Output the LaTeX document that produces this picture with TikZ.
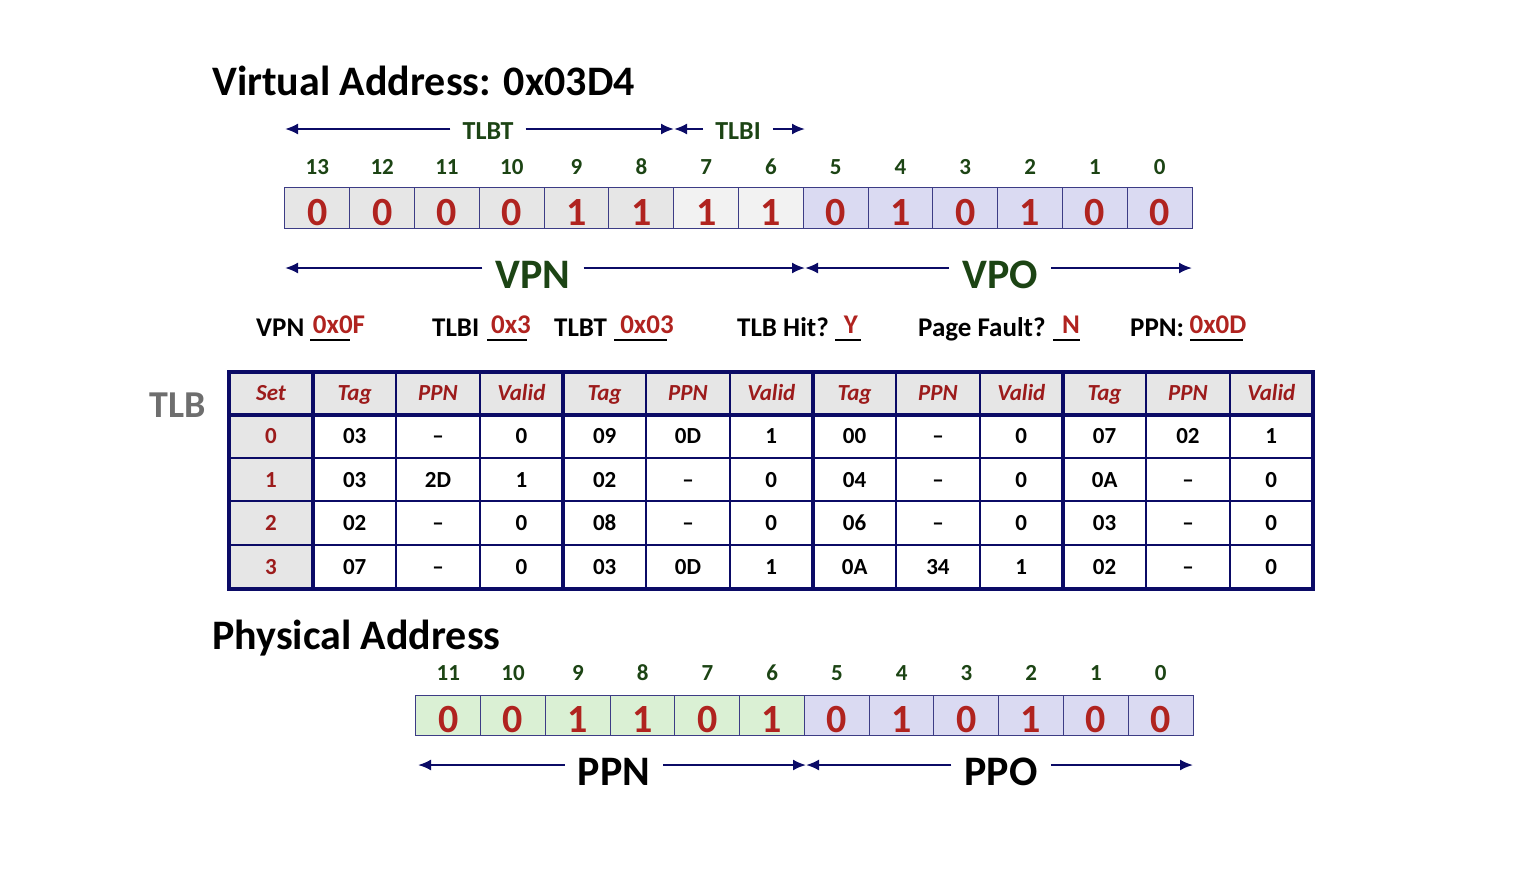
\documentclass[tikz,border=0pt]{standalone}
\usepackage{fontspec}
\setmainfont{Carlito}
\usetikzlibrary{arrows.meta}
\definecolor{navy}{HTML}{0B0B66}
\definecolor{bitred}{HTML}{B0231F}
\definecolor{hdrred}{HTML}{9C1B1B}
\definecolor{darkgreen}{HTML}{1C4414}
\definecolor{cellgray}{HTML}{E6E6E6}
\definecolor{cellpale}{HTML}{F2F2F2}
\definecolor{lavender}{HTML}{DADAF2}
\definecolor{mint}{HTML}{DAF0D4}
\definecolor{tlbgray}{HTML}{6E6E6E}
\begin{document}
\begin{tikzpicture}[x=1pt,y=-1pt,
  bit/.style={draw=navy!80,line width=1pt,minimum width=64.8pt,minimum height=41pt,inner sep=0pt,text=bitred,text height=34pt,text depth=0pt,font=\fontsize{40}{40}\selectfont\bfseries},
  bitno/.style={text=darkgreen,font=\fontsize{23}{23}\selectfont\bfseries},
  span/.style={draw=navy,line width=2pt,-{Latex[length=13pt,width=11pt]}},
  tag/.style={text=darkgreen,inner sep=12pt,text height=21pt,text depth=0pt,font=\fontsize{26}{26}\selectfont\bfseries},
  big/.style={inner sep=13pt,text height=40pt,text depth=0pt,font=\fontsize{42}{42}\selectfont\bfseries},
  title/.style={anchor=base west,inner sep=0pt,font=\fontsize{42}{42}\selectfont\bfseries},
  fld/.style={anchor=base west,inner sep=0pt,font=\fontsize{27}{27}\selectfont\bfseries},
  val/.style={anchor=base,inner sep=0pt,text=bitred,font=\fontsize{27}{27}\selectfont\bfseries},
  uline/.style={line width=2pt},
  cell/.style={inner sep=0pt,text height=14.5pt,text depth=0pt,font=\fontsize{23}{23}\selectfont\bfseries},
  head/.style={cell,text=hdrred,font=\fontsize{23}{23}\selectfont\bfseries\itshape},
  setno/.style={cell,text=hdrred},
  grid/.style={draw=navy,line width=1.8pt},
  frame/.style={draw=navy,line width=4.5pt}]

    \useasboundingbox (0,0) rectangle (1524,878);

    % virtual address
    \node[title] (vtitle) at (212,95) {Virtual Address: 0x03D4};
    \foreach \b/\v/\c in {13/0/cellgray,12/0/cellgray,11/0/cellgray,10/0/cellgray,9/1/cellgray,8/1/cellgray,7/1/cellpale,6/1/cellpale,5/0/lavender,4/1/lavender,3/0/lavender,2/1/lavender,1/0/lavender,0/0/lavender}{
        \node[bit,fill=\c] (v\b) at ({285+(13.5-\b)*64.79},208) {\v};
        \node[bitno] (vn\b) at ({285+(13.5-\b)*64.79},167) {\b};
    }

    \coordinate (tlbtL) at (285,129);
    \coordinate (tlbtR) at (674,129);
    \coordinate (tlbiR) at (805,129);
    \node[tag] (tlbt) at (488,129) {TLBT};
    \node[tag] (tlbi) at (738,129) {TLBI};
    \draw[span] (tlbt) -- (tlbtL);
    \draw[span] (tlbt) -- (tlbtR);
    \draw[span] (tlbi) -- (tlbtR);
    \draw[span] (tlbi) -- (tlbiR);

    \coordinate (vpnL) at (285,268);
    \coordinate (vpnR) at (805,268);
    \coordinate (vpoR) at (1192,268);
    \node[big,text=darkgreen] (vpn) at (533,268) {VPN};
    \node[big,text=darkgreen] (vpo) at (1000,268) {VPO};
    \draw[span] (vpn) -- (vpnL);
    \draw[span] (vpn) -- (vpnR);
    \draw[span] (vpo) -- (vpnR);
    \draw[span] (vpo) -- (vpoR);

    % answers
    \foreach \n/\lx/\t/\ua/\ub/\vx/\v in {fvpn/256/VPN/310/350/339/0x0F,ftlbi/432/TLBI/487/527/511/0x3,ftlbt/554/TLBT/614/667/647/0x03,fhit/737/TLB Hit?/835/861/851/Y,ffault/918/Page Fault?/1053/1080/1071/N,fppn/1130/PPN:/1190/1243/1218/0x0D}{
        \node[fld] (\n) at (\lx,336) {\t};
        \draw[uline] (\ua,340) -- (\ub,340);
        \node[val] (\n v) at (\vx,333) {\v};
    }

    % TLB
    \node[anchor=east,inner sep=0pt,text=tlbgray,font=\fontsize{38}{38}\selectfont\bfseries] (tlb) at (206,405) {TLB};
    \fill[cellgray] (229,372) rectangle (1313,415);
    \fill[cellgray] (229,415) rectangle (313,589);
    \foreach \x in {396,480,646,730,896,980,1146,1230}
        \draw[grid] (\x,372) -- (\x,589);
    \foreach \y in {458,501,545}
        \draw[grid] (229,\y) -- (1313,\y);
    \foreach \x in {313,563,813,1063}
        \draw[frame] (\x,372) -- (\x,589);
    \draw[frame] (229,415) -- (1313,415);
    \draw[frame] (229,372) rectangle (1313,589);

    \node[head] (hset) at (271,393.5) {Set};
    \foreach \t [count=\c] in {Tag,PPN,Valid,Tag,PPN,Valid,Tag,PPN,Valid,Tag,PPN,Valid}
        \node[head] (h\c) at ({313+(\c-0.5)*83.33},393.5) {\t};
    \foreach \r/\row in {0/{03,\textendash,0,09,0D,1,00,\textendash,0,07,02,1},
                         1/{03,2D,1,02,\textendash,0,04,\textendash,0,0A,\textendash,0},
                         2/{02,\textendash,0,08,\textendash,0,06,\textendash,0,03,\textendash,0},
                         3/{07,\textendash,0,03,0D,1,0A,34,1,02,\textendash,0}}{
        \node[setno] (s\r) at (271,{436.5+\r*43.5}) {\r};
        \foreach \v [count=\c] in \row
            \node[cell] (d\r-\c) at ({313+(\c-0.5)*83.33},{436.5+\r*43.5}) {\v};
    }

    % physical address
    \node[title] (ptitle) at (212,649) {Physical Address};
    \foreach \b/\v/\c in {11/0/mint,10/0/mint,9/1/mint,8/1/mint,7/0/mint,6/1/mint,5/0/lavender,4/1/lavender,3/0/lavender,2/1/lavender,1/0/lavender,0/0/lavender}{
        \node[bit,fill=\c,minimum height=40pt] (p\b) at ({416+(11.5-\b)*64.75},715) {\v};
        \node[bitno] (pn\b) at ({416+(11.5-\b)*64.75},673) {\b};
    }

    \coordinate (ppnL) at (418,765);
    \coordinate (ppnR) at (806,765);
    \coordinate (ppoR) at (1193,765);
    \node[big] (ppn) at (614,765) {PPN};
    \node[big] (ppo) at (1001,765) {PPO};
    \draw[span] (ppn) -- (ppnL);
    \draw[span] (ppn) -- (ppnR);
    \draw[span] (ppo) -- (ppnR);
    \draw[span] (ppo) -- (ppoR);
\end{tikzpicture}
\end{document}
